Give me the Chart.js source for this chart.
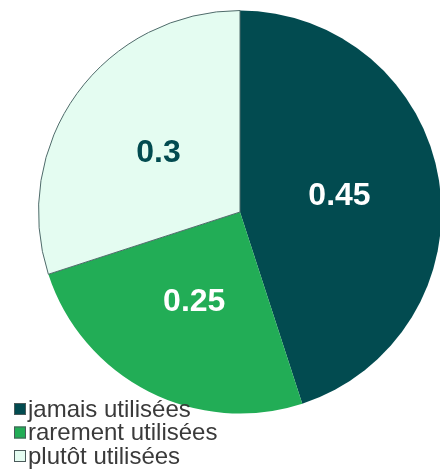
<!DOCTYPE html>
<html>
<head>
<meta charset="utf-8">
<script src="https://cdn.jsdelivr.net/npm/chart.js@4/dist/chart.umd.min.js"></script>
<style>
  html, body { margin: 0; padding: 0; background: #fff; overflow: hidden; }
  #wrap { position: relative; width: 444px; height: 474px; }
</style>
</head>
<body>
<div id="wrap"><canvas id="pieChart"></canvas></div>
<script>
const categories = ['jamais utilisées', 'rarement utilisées', 'plutôt utilisées'];
const shares = [0.45, 0.25, 0.3];
const sliceColors = ['#024b50', '#22ad56', '#e4fcf1'];
const labelColors = ['#ffffff', '#ffffff', '#024b50'];

// labels inside slices, at mid radius
const sliceLabels = {
    id: 'sliceLabels',
    afterDatasetsDraw(chart) {
        const ctx = chart.ctx;
        const meta = chart.getDatasetMeta(0);
        ctx.save();
        ctx.font = 'bold 32px "Liberation Sans", Arial, sans-serif';
        ctx.textAlign = 'center';
        ctx.textBaseline = 'middle';
        meta.data.forEach(function (arc, i) {
            const pos = arc.tooltipPosition();
            ctx.fillStyle = labelColors[i];
            ctx.fillText(String(shares[i]), pos.x, pos.y);
        });
        ctx.restore();
    }
};

// legend drawn over the bottom-left corner
const cornerLegend = {
    id: 'cornerLegend',
    afterDraw(chart) {
        const ctx = chart.ctx;
        ctx.save();
        ctx.font = '24px "Liberation Sans", Arial, sans-serif';
        ctx.textBaseline = 'middle';
        categories.forEach(function (name, i) {
            const y = 409 + i * 23.5;
            ctx.fillStyle = sliceColors[i];
            ctx.fillRect(14, y - 6, 12, 12);
            ctx.strokeStyle = '#4a5a5a';
            ctx.lineWidth = 1;
            ctx.strokeRect(14.5, y - 5.5, 11, 11);
            ctx.fillStyle = '#3a3a3a';
            ctx.fillText(name, 28, y + 1);
        });
        ctx.restore();
    }
};

new Chart(document.getElementById('pieChart').getContext('2d'), {
    type: 'pie',
    data: {
        labels: categories,
        datasets: [{
            data: shares,
            backgroundColor: sliceColors,
            borderColor: ['#024b50', '#22ad56', '#4f6a6a'],
            borderWidth: [0, 0, 1]
        }]
    },
    options: {
        responsive: true,
        maintainAspectRatio: false,
        animation: false,
        layout: { padding: { left: 36, top: 10, right: 0, bottom: 60 } },
        plugins: {
            legend: { display: false },
            tooltip: { enabled: false }
        }
    },
    plugins: [sliceLabels, cornerLegend]
});
</script>
</body>
</html>
